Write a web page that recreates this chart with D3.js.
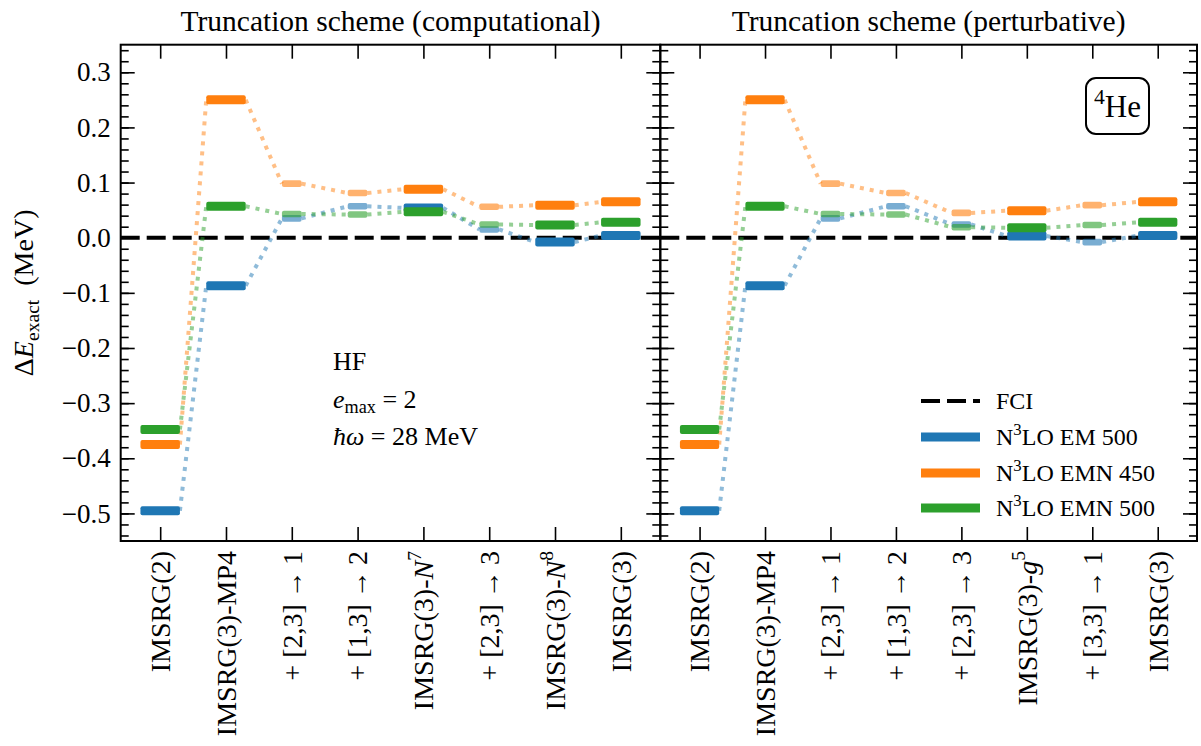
<!DOCTYPE html>
<html>
<head>
<meta charset="utf-8">
<script src="https://cdn.jsdelivr.net/npm/d3@7"></script>
<style>
  body { margin: 0; background: #fff; }
  text { font-family: "Liberation Serif", "DejaVu Serif", serif; fill: #000; }
</style>
</head>
<body>
<div id="chart"></div>
<script>
// categories (tick labels, tiny markup: *italic*, ^{sup}, _{sub})
var leftCategories = ["IMSRG(2)", "IMSRG(3)-MP4", "+ [2,3] \u2192 1", "+ [1,3] \u2192 2",
    "IMSRG(3)-*N*^{7}", "+ [2,3] \u2192 3", "IMSRG(3)-*N*^{8}", "IMSRG(3)"];
var rightCategories = ["IMSRG(2)", "IMSRG(3)-MP4", "+ [2,3] \u2192 1", "+ [1,3] \u2192 2",
    "+ [2,3] \u2192 3", "IMSRG(3)-*g*^{5}", "+ [3,3] \u2192 1", "IMSRG(3)"];
// full truncation schemes vs intermediate steps
var leftMain = [true, true, false, false, true, false, true, true];
var rightMain = [true, true, false, false, false, true, false, true];

// Delta E_exact (MeV)
var leftEM500 = [-0.495, -0.087, 0.035, 0.057, 0.054, 0.015, -0.008, 0.004];
var leftEMN450 = [-0.375, 0.250, 0.098, 0.081, 0.088, 0.056, 0.059, 0.065];
var leftEMN500 = [-0.348, 0.057, 0.043, 0.042, 0.047, 0.024, 0.023, 0.028];

var rightEM500 = [-0.495, -0.087, 0.035, 0.057, 0.024, 0.003, -0.008, 0.004];
var rightEMN450 = [-0.375, 0.250, 0.098, 0.081, 0.045, 0.049, 0.059, 0.065];
var rightEMN500 = [-0.348, 0.057, 0.043, 0.042, 0.019, 0.018, 0.023, 0.028];

var seriesNames = ["N^{3}LO EM 500", "N^{3}LO EMN 450", "N^{3}LO EMN 500"];
var seriesColors = ["#1f77b4", "#ff7f0e", "#2ca02c"];

var yMajor = [-0.5, -0.4, -0.3, -0.2, -0.1, 0.0, 0.1, 0.2, 0.3];
var yMinor = d3.range(-54, 35, 2).map(function(d) { return d / 100; });

var width = 1201, height = 746;
var plotTop = 44.7, plotBottom = 541;

var svg = d3.select("#chart").append("svg")
    .attr("width", width)
    .attr("height", height);

var y = d3.scaleLinear().domain([-0.55, 0.35]).range([plotBottom, plotTop]);

// writes a string with the tiny markup into a text element
function rich(textSel, str, size) {
    var parts = str.split(/(\^\{[^}]*\}|_\{[^}]*\}|\*[^*]*\*| ?\u2192 ?)/).filter(function(s) { return s.length; });
    var shift = 0, padNext = false;
    parts.forEach(function(p) {
        var t = textSel.append("tspan");
        var want = 0, txt = p, small = false, ital = false;
        if (padNext) { t.attr("dx", size * 0.2); padNext = false; }
        if (p[0] === "^") { want = -0.42 * size; txt = p.slice(2, -1); small = true; }
        else if (p[0] === "_") { want = 0.22 * size; txt = p.slice(2, -1); small = true; }
        else if (p[0] === "*") { txt = p.slice(1, -1); ital = true; }
        else if (p.indexOf("\u2192") >= 0) {
            txt = "\u2192";
            t.attr("dx", size * 0.2);
            padNext = true;
        }
        if (want !== shift) { t.attr("dy", want - shift); shift = want; }
        if (small) t.style("font-size", (size * 0.7) + "px");
        if (ital) t.style("font-style", "italic");
        t.text(txt);
    });
}

function drawPanel(x0, x1, cats, mains, values, title, showYLabels) {
    var x = d3.scaleLinear().domain([-0.6, 7.6]).range([x0, x1]);
    var g = svg.append("g");

    // zero line (FCI)
    g.append("line")
        .attr("x1", x0).attr("x2", x1)
        .attr("y1", y(0)).attr("y2", y(0))
        .attr("stroke", "#000").attr("stroke-width", 4)
        .attr("stroke-dasharray", "19,7");

    var halfW = function(i) { return mains[i] ? 0.3 : 0.15; };

    // dotted connectors
    values.forEach(function(vals, s) {
        var pts = [];
        vals.forEach(function(v, i) {
            pts.push([i - halfW(i), v]);
            pts.push([i + halfW(i), v]);
        });
        for (var i = 0; i < vals.length - 1; i++) {
            g.append("path")
                .datum([pts[2 * i + 1], pts[2 * i + 2]])
                .attr("d", d3.line().x(function(d) { return x(d[0]); }).y(function(d) { return y(d[1]); }))
                .attr("fill", "none")
                .attr("stroke", seriesColors[s])
                .attr("stroke-opacity", 0.5)
                .attr("stroke-width", 4)
                .attr("stroke-dasharray", "4,6");
        }
    });

    // bars
    values.forEach(function(vals, s) {
        g.selectAll(".bar" + s)
            .data(vals)
            .enter()
            .append("rect")
            .attr("x", function(d, i) { return x(i - halfW(i)); })
            .attr("width", function(d, i) { return x(i + halfW(i)) - x(i - halfW(i)); })
            .attr("y", function(d, i) { return y(d) - (mains[i] ? 4.5 : 3.3); })
            .attr("height", function(d, i) { return mains[i] ? 9 : 6.6; })
            .attr("rx", 2)
            .attr("fill", seriesColors[s])
            .attr("fill-opacity", function(d, i) { return mains[i] ? 1 : 0.6; });
    });

    // axes, ticks inside
    var ticksX = d3.range(cats.length);
    g.append("g").attr("transform", "translate(0," + plotBottom + ")")
        .call(d3.axisBottom(x).tickValues(ticksX).tickSize(-14).tickFormat(""));
    g.append("g").attr("transform", "translate(0," + plotTop + ")")
        .call(d3.axisTop(x).tickValues(ticksX).tickSize(-14).tickFormat(""));

    var fmt = function(d) { return d3.format(".1f")(d).replace("-", "\u2212"); };
    g.append("g").attr("class", "ylab").attr("transform", "translate(" + x0 + ",0)")
        .call(d3.axisLeft(y).tickValues(yMajor).tickSize(-14).tickPadding(10)
            .tickFormat(showYLabels ? fmt : ""));
    g.append("g").attr("transform", "translate(" + x0 + ",0)")
        .call(d3.axisLeft(y).tickValues(yMinor).tickSize(-8).tickFormat(""));
    g.append("g").attr("transform", "translate(" + x1 + ",0)")
        .call(d3.axisRight(y).tickValues(yMajor).tickSize(-14).tickFormat(""));
    g.append("g").attr("transform", "translate(" + x1 + ",0)")
        .call(d3.axisRight(y).tickValues(yMinor).tickSize(-8).tickFormat(""));

    g.selectAll(".domain").remove();
    g.selectAll(".tick line").attr("stroke", "#000").attr("stroke-width", 1.6);
    g.selectAll(".ylab text")
        .style("font-family", "Liberation Serif, serif")
        .style("font-size", "27px");

    // frame
    g.append("rect")
        .attr("x", x0).attr("y", plotTop)
        .attr("width", x1 - x0).attr("height", plotBottom - plotTop)
        .attr("fill", "none").attr("stroke", "#000").attr("stroke-width", 2);

    // category labels, rotated
    cats.forEach(function(c, i) {
        var t = g.append("text")
            .attr("transform", "translate(" + x(i) + "," + (plotBottom + 10) + ") rotate(-90)")
            .attr("text-anchor", "end")
            .attr("dy", "0.35em")
            .style("font-size", "28px");
        rich(t, c, 28);
    });

    // title
    g.append("text")
        .attr("x", (x0 + x1) / 2)
        .attr("y", 31)
        .attr("text-anchor", "middle")
        .style("font-size", "29.5px")
        .text(title);

    return x;
}

drawPanel(120.7, 660.3, leftCategories, leftMain,
    [leftEM500, leftEMN450, leftEMN500], "Truncation scheme (computational)", true);
drawPanel(660.3, 1197, rightCategories, rightMain,
    [rightEM500, rightEMN450, rightEMN500], "Truncation scheme (perturbative)", false);

// y axis label
var yl = svg.append("text")
    .attr("transform", "translate(33," + ((plotTop + plotBottom) / 2) + ") rotate(-90)")
    .attr("text-anchor", "middle")
    .style("font-size", "28px");
rich(yl, "\u0394*E*_{exact}\u2002(MeV)", 28);

// annotation
var notes = ["HF", "*e*_{max} = 2", "*\u0127\u03c9* = 28 MeV"];
notes.forEach(function(n, i) {
    var t = svg.append("text")
        .attr("x", 333)
        .attr("y", 370 + i * 37.5)
        .style("font-size", "26px");
    rich(t, n, 26);
});

// nucleus box
svg.append("rect")
    .attr("x", 1086).attr("y", 78)
    .attr("width", 63).attr("height", 56)
    .attr("rx", 10)
    .attr("fill", "#fff").attr("stroke", "#000").attr("stroke-width", 2);
var he = svg.append("text")
    .attr("x", 1117.5).attr("y", 117)
    .attr("text-anchor", "middle")
    .style("font-size", "31px");
rich(he, "^{4}He", 31);

// legend
var legendY = [401, 437, 473, 508];
var lg = svg.append("g");
lg.append("line")
    .attr("x1", 921).attr("x2", 980)
    .attr("y1", legendY[0]).attr("y2", legendY[0])
    .attr("stroke", "#000").attr("stroke-width", 4)
    .attr("stroke-dasharray", "19,7");
lg.append("text")
    .attr("x", 996).attr("y", legendY[0] + 8)
    .style("font-size", "24px")
    .text("FCI");
seriesNames.forEach(function(name, s) {
    lg.append("rect")
        .attr("x", 921).attr("y", legendY[s + 1] - 4.5)
        .attr("width", 59).attr("height", 9)
        .attr("fill", seriesColors[s]);
    var t = lg.append("text")
        .attr("x", 996).attr("y", legendY[s + 1] + 8)
        .style("font-size", "24px");
    rich(t, name, 24);
});
</script>
</body>
</html>
